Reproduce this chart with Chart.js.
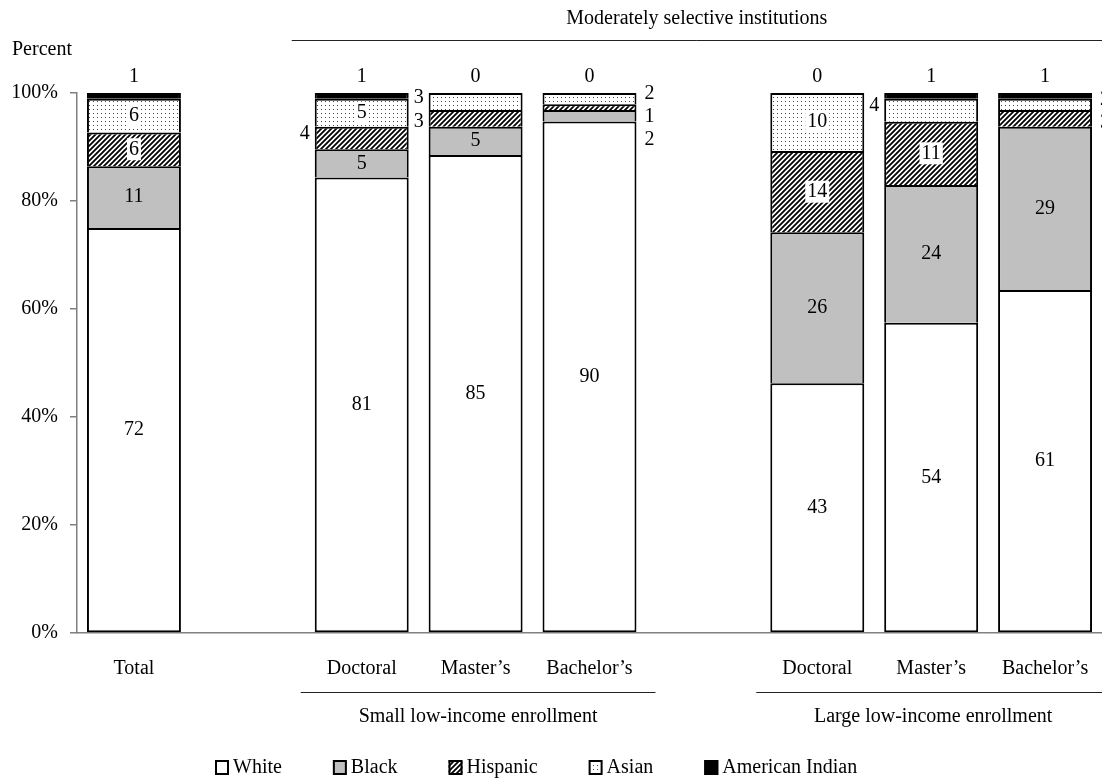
<!DOCTYPE html>
<html>
<head>
<meta charset="utf-8">
<script src="https://cdn.jsdelivr.net/npm/chart.js@4.4.1/dist/chart.umd.min.js"></script>
<style>
    body { margin: 0; background: #fff; }
    #wrap { width: 1102px; height: 779px; }
</style>
</head>
<body>
<div id="wrap"><canvas id="grafico" width="1102" height="779"></canvas></div>
<script>
const categorias = ['Total', '', 'Doctoral', 'Master\u2019s', 'Bachelor\u2019s', '', 'Doctoral', 'Master\u2019s', 'Bachelor\u2019s'];
const white    = [72, null, 81, 85, 90, null, 43, 54, 61];
const black    = [11, null, 5, 5, 2, null, 26, 24, 29];
const hispanic = [6, null, 4, 3, 1, null, 14, 11, 3];
const asian    = [6, null, 5, 3, 2, null, 10, 4, 2];
const amIndian = [1, null, 1, 0, 0, null, 0, 1, 1];
const yTicks = [0, 20, 40, 60, 80, 100];

// where each label is written: in, left, right
const lugarBlack    = ['in', '', 'in', 'in', 'right', '', 'in', 'in', 'in'];
const lugarHispanic = ['in', '', 'left', 'left', 'right', '', 'in', 'in', 'right'];
const lugarAsian    = ['in', '', 'in', 'left', 'right', '', 'in', 'left', 'right'];

const FUENTE = '"Liberation Serif", "Times New Roman", serif';
const GRIS = '#808080';

function patronRayas() {
    const c = document.createElement('canvas');
    c.width = 5; c.height = 5;
    const g = c.getContext('2d');
    g.fillStyle = '#fff';
    g.fillRect(0, 0, 5, 5);
    g.strokeStyle = '#000';
    g.lineWidth = 1.8;
    g.beginPath();
    g.moveTo(-1, 6); g.lineTo(6, -1);
    g.moveTo(-3, 3); g.lineTo(3, -3);
    g.moveTo(2, 8); g.lineTo(8, 2);
    g.stroke();
    return g.createPattern(c, 'repeat');
}

function patronPuntos() {
    const c = document.createElement('canvas');
    c.width = 4; c.height = 4;
    const g = c.getContext('2d');
    g.fillStyle = '#fff';
    g.fillRect(0, 0, 4, 4);
    g.fillStyle = '#444';
    g.fillRect(1, 1, 1, 1);
    return g.createPattern(c, 'repeat');
}

const totales = categorias.map((c, i) => {
    if (white[i] == null) return null;
    return white[i] + black[i] + hispanic[i] + asian[i] + amIndian[i];
});

function porcentaje(serie) {
    return serie.map((v, i) => v == null ? null : v / totales[i] * 100);
}

const series = [
    { label: 'White', valores: white, color: '#ffffff', lugar: null },
    { label: 'Black', valores: black, color: '#c0c0c0', lugar: lugarBlack },
    { label: 'Hispanic', valores: hispanic, color: patronRayas(), lugar: lugarHispanic },
    { label: 'Asian', valores: asian, color: patronPuntos(), lugar: lugarAsian },
    { label: 'American Indian', valores: amIndian, color: '#000000', lugar: null }
];

const datasets = series.map((s, k) => ({
    label: s.label,
    data: porcentaje(s.valores),
    backgroundColor: s.color,
    borderColor: '#000',
    borderWidth: { top: 2, left: 2, right: 2, bottom: k == 0 ? 2 : 0 },
    borderSkipped: false,
    categoryPercentage: 1,
    barPercentage: 0.825
}));

function escribir(ctx, texto, x, y, align, fondo) {
    ctx.font = '20px ' + FUENTE;
    ctx.textAlign = align;
    ctx.textBaseline = 'middle';
    if (fondo) {
        const w = ctx.measureText(texto).width;
        ctx.fillStyle = '#fff';
        ctx.fillRect(x - w / 2 - 2, y - 11, w + 4, 22);
    }
    ctx.fillStyle = '#000';
    ctx.fillText(texto, x, y);
}

const etiquetas = {
    id: 'etiquetas',
    afterDatasetsDraw(chart) {
        const ctx = chart.ctx;
        ctx.save();
        for (let i = 0; i < categorias.length; i++) {
            if (totales[i] == null) continue;
            let ultimoIzq = -100;
            let ultimoDer = -100;
            // top to bottom: American Indian, Asian, Hispanic, Black, White
            for (let k = series.length - 1; k >= 0; k--) {
                const s = series[k];
                const bar = chart.getDatasetMeta(k).data[i];
                const centro = (bar.y + bar.base) / 2;
                const texto = String(s.valores[i]);
                if (k == 4) {
                    escribir(ctx, texto, bar.x, bar.y - 16, 'center', false);
                    continue;
                }
                const lugar = s.lugar ? s.lugar[i] : 'in';
                if (lugar == 'in') {
                    escribir(ctx, texto, bar.x, centro, 'center', k == 2 || k == 3);
                } else if (lugar == 'left') {
                    const y = Math.max(centro - 4, ultimoIzq + 24);
                    escribir(ctx, texto, bar.x - bar.width / 2 - 5, y, 'right', false);
                    ultimoIzq = y;
                } else if (lugar == 'right') {
                    const y = Math.max(centro - 5, ultimoDer + 23);
                    escribir(ctx, texto, bar.x + bar.width / 2 + 8, y, 'left', false);
                    ultimoDer = y;
                }
            }
        }
        ctx.restore();
    },
    afterDraw(chart) {
        const ctx = chart.ctx;
        const x = chart.scales.x;
        ctx.save();
        ctx.strokeStyle = '#222';
        ctx.lineWidth = 1;

        escribir(ctx, 'Percent', 12, 50, 'left', false);

        let x1 = x.getPixelForValue(2) - 70;
        let x2 = chart.width;
        ctx.beginPath(); ctx.moveTo(x1, 40.5); ctx.lineTo(x2, 40.5); ctx.stroke();
        escribir(ctx, 'Moderately selective institutions', (x1 + x2) / 2, 19, 'center', false);

        x1 = x.getPixelForValue(2) - 61;
        x2 = x.getPixelForValue(4) + 66;
        ctx.beginPath(); ctx.moveTo(x1, 692.5); ctx.lineTo(x2, 692.5); ctx.stroke();
        escribir(ctx, 'Small low-income enrollment', (x1 + x2) / 2, 717, 'center', false);

        x1 = x.getPixelForValue(6) - 61;
        x2 = chart.width;
        ctx.beginPath(); ctx.moveTo(x1, 692.5); ctx.lineTo(x2, 692.5); ctx.stroke();
        escribir(ctx, 'Large low-income enrollment', (x1 + x2 + 8) / 2, 717, 'center', false);

        // leyenda
        let lx = 215;
        for (const s of series) {
            ctx.fillStyle = s.color;
            ctx.fillRect(lx, 760, 14, 15);
            ctx.lineWidth = 2;
            ctx.strokeStyle = '#000';
            ctx.strokeRect(lx + 1, 761, 12, 13);
            escribir(ctx, s.label, lx + 18, 768, 'left', false);
            lx += 18 + ctx.measureText(s.label).width + 51;
        }
        ctx.restore();
    }
};

function GraficoRazas() {
    const ctx = document.getElementById('grafico').getContext('2d');
    new Chart(ctx, {
        type: 'bar',
        data: { labels: categorias, datasets: datasets },
        options: {
            responsive: false,
            animation: false,
            layout: { padding: { top: 93, right: -2, left: 0, bottom: 0 } },
            plugins: { legend: { display: false }, tooltip: { enabled: false } },
            scales: {
                x: {
                    stacked: true,
                    grid: { display: false },
                    border: { display: true, color: GRIS, width: 1.5 },
                    ticks: { color: '#000', font: { family: FUENTE, size: 20 }, padding: 16, maxRotation: 0, autoSkip: false },
                    afterFit: function(scale) {
                        scale.height = 146;
                        scale.paddingLeft = 0;
                        scale.paddingRight = 0;
                    }
                },
                y: {
                    stacked: true,
                    min: 0,
                    max: 100,
                    afterBuildTicks: function(scale) { scale.ticks = yTicks.map(v => ({ value: v })); },
                    grid: { drawOnChartArea: false, drawTicks: true, tickLength: 7, color: GRIS, lineWidth: 1.5 },
                    border: { display: true, color: GRIS, width: 1.5 },
                    ticks: {
                        color: '#000',
                        padding: 12,
                        font: { family: FUENTE, size: 20 },
                        callback: function(v) { return v + '%'; }
                    },
                    afterFit: function(scale) { scale.width = 77; }
                }
            }
        },
        plugins: [etiquetas]
    });
}
GraficoRazas();
</script>
</body>
</html>
